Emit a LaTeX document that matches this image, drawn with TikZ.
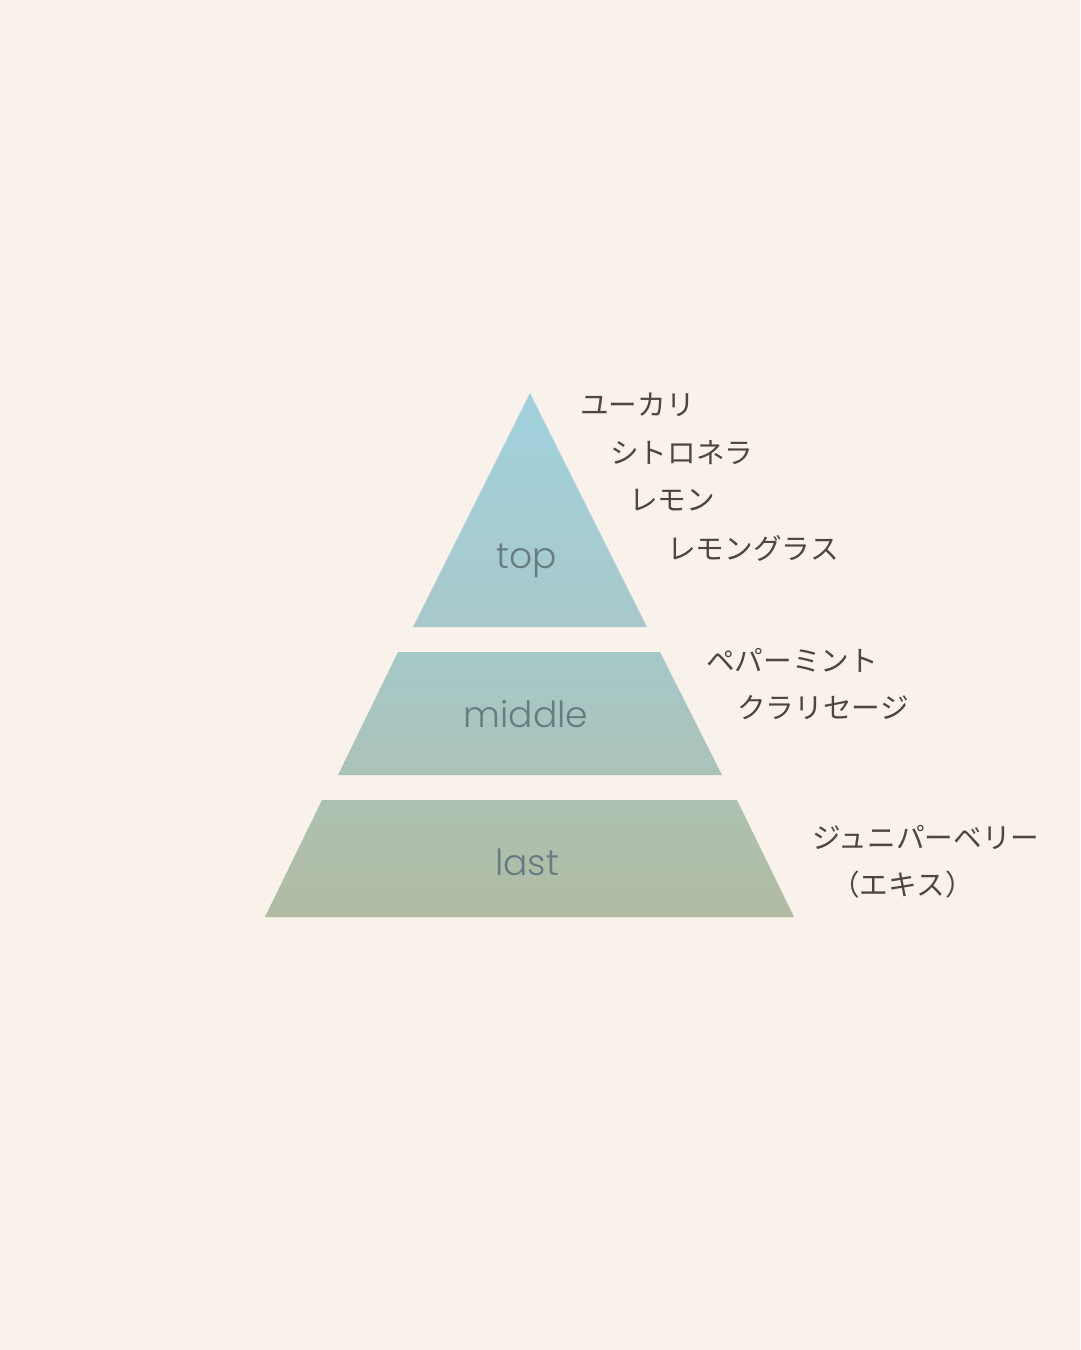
\documentclass[tikz,border=0pt]{standalone}
\usepackage{fontspec}
\setmainfont{Poppins Light}
\newfontfamily\cjk{Noto Sans CJK JP}
\usetikzlibrary{positioning}
\definecolor{paper}{HTML}{F8F2EA}
\definecolor{ink}{HTML}{4C4643}
\definecolor{layerink}{HTML}{667C82}
\definecolor{topA}{HTML}{A0D1DD}
\definecolor{topB}{HTML}{A9C8CA}
\definecolor{midA}{HTML}{A6C8C7}
\definecolor{midB}{HTML}{ABC2B9}
\definecolor{lastA}{HTML}{ADC1B0}
\definecolor{lastB}{HTML}{B1BBA3}
\tikzset{
x=0.02cm, y=-0.02cm, % one unit is one pixel of the reference
note/.style={anchor=west, inner sep=0pt, text=ink, font=\cjk\fontsize{16.3pt}{19pt}\selectfont}, % the scent notes
layer/.style={inner sep=0pt, text=layerink, font=\fontsize{20.5pt}{24pt}\selectfont}, % the names of the layers
}
\begin{document}
\begin{tikzpicture}
		\fill[paper] (0,0) rectangle (1080,1350);
		\useasboundingbox (0,0) rectangle (1080,1350);
		\shade[top color=topA, bottom color=topB] (530,393) -- (647,627) -- (413,627) -- cycle;
		\shade[top color=midA, bottom color=midB] (398,652) -- (660,652) -- (722,775) -- (338,775) -- cycle;
		\shade[top color=lastA, bottom color=lastB] (322,800) -- (737,800) -- (794,917) -- (265,917) -- cycle;
		\node[layer] (top) at (527,561) {top};
		\node[layer] (middle) at (526,714) {middle};
		\node[layer] (last) at (527,862) {last};
		\node[note] (t1) at (580,405) {ユーカリ};
		\node[note] (t2) at (610,453) {シトロネラ};
		\node[note] (t3) at (629,500) {レモン};
		\node[note] (t4) at (667,548) {レモングラス};
		\node[note] (m1) at (706,660) {ペパーミント};
		\node[note] (m2) at (737,708) {クラリセージ};
		\node[note] (l1) at (812,837) {ジュニパーベリー};
		\node[note] (l2) at (831,885) {（エキス）};
	\end{tikzpicture}
\end{document}
